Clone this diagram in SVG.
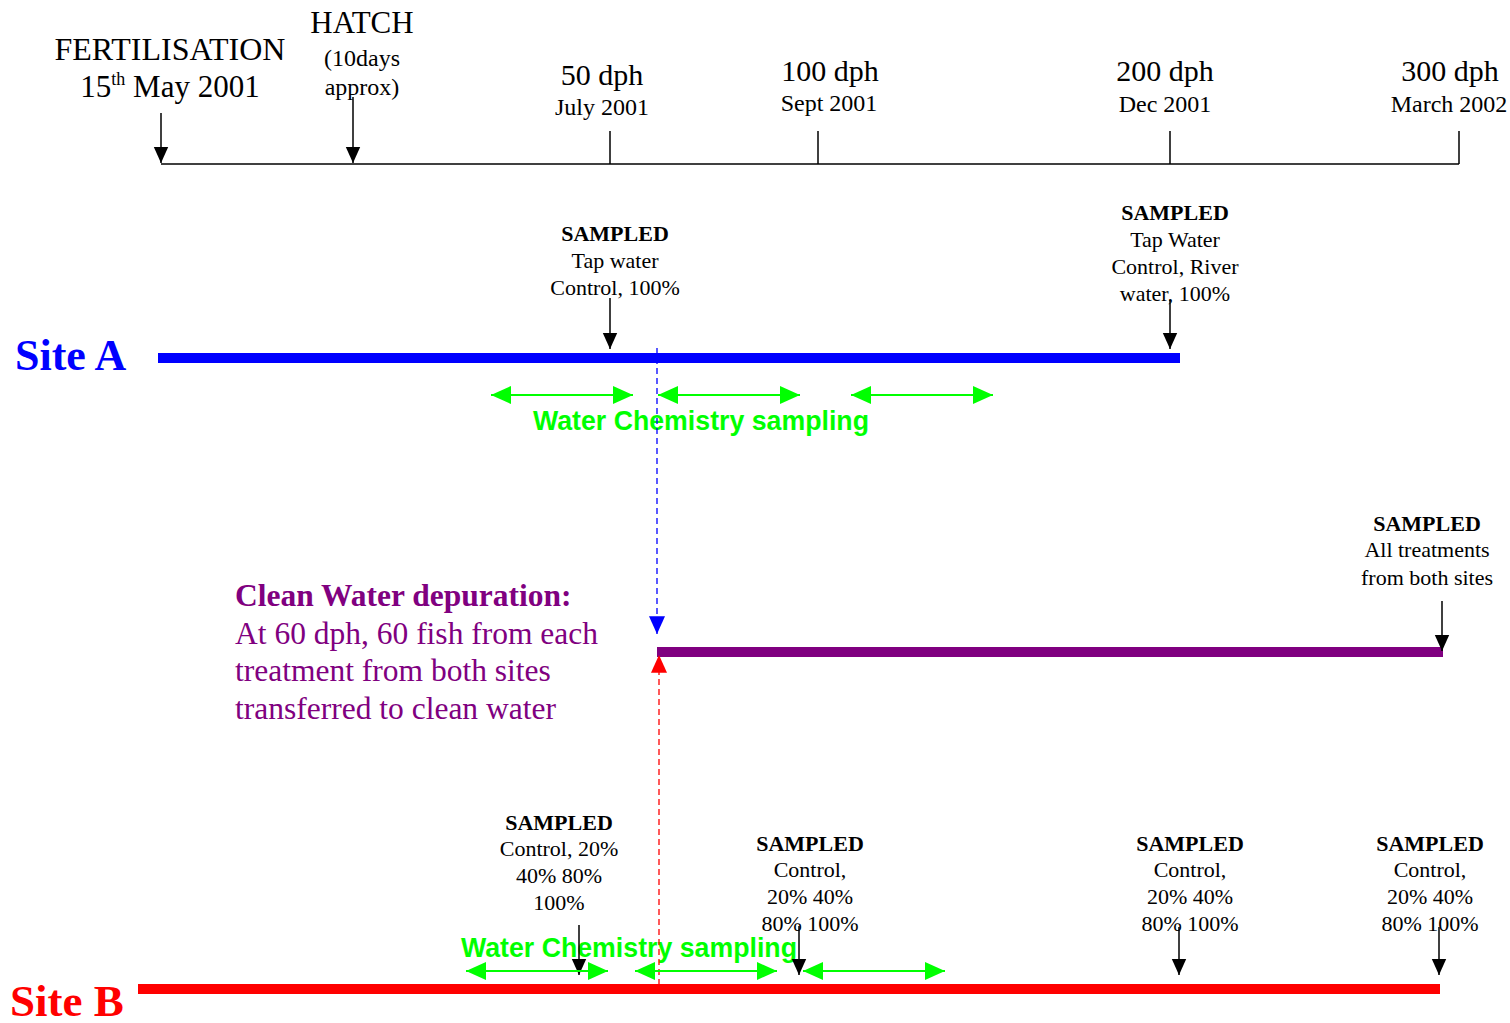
<svg xmlns="http://www.w3.org/2000/svg" width="1510" height="1023" viewBox="0 0 1510 1023">
<style>
text{font-family:"Liberation Serif","Times New Roman",serif;fill:#000}
.big{font-size:30px}
.med{font-size:24px}
.sm{font-size:22px;text-anchor:middle}
.b{font-weight:bold}
.site{font-size:44px;font-weight:bold}
.wc{font-family:"Liberation Sans",Arial,sans-serif;font-size:27px;font-weight:bold;fill:#00ff00}
.pur{fill:#800080;font-size:31.5px}
.blk{stroke:#000;stroke-width:1.5;fill:none}
.grn{stroke:#00ff00;stroke-width:2;fill:none}
</style>
<defs>
<marker id="ga" viewBox="0 0 20 18" refX="20" refY="9" markerWidth="20" markerHeight="18" markerUnits="userSpaceOnUse" orient="auto-start-reverse"><path d="M0,0 L20,9 L0,18 Z" fill="#00ff00"/></marker>
<marker id="ba" viewBox="0 0 20 18" refX="20" refY="9" markerWidth="18" markerHeight="16" markerUnits="userSpaceOnUse" orient="auto"><path d="M0,0 L20,9 L0,18 Z" fill="#0000ff"/></marker>
<marker id="ra" viewBox="0 0 20 18" refX="20" refY="9" markerWidth="18" markerHeight="16" markerUnits="userSpaceOnUse" orient="auto"><path d="M0,0 L20,9 L0,18 Z" fill="#ff0000"/></marker>
<marker id="ka" viewBox="0 0 20 18" refX="20" refY="9" markerWidth="16" markerHeight="16" markerUnits="userSpaceOnUse" orient="auto"><path d="M0,0 L20,9 L0,18 Z" fill="#000"/></marker>
</defs>

<g id="timeline">
<line class="blk" x1="161" y1="164" x2="1459" y2="164"/>
<line class="blk" x1="610" y1="131" x2="610" y2="164"/>
<line class="blk" x1="818" y1="131" x2="818" y2="164"/>
<line class="blk" x1="1170" y1="131" x2="1170" y2="164"/>
<line class="blk" x1="1459" y1="131" x2="1459" y2="164"/>
</g>

<g id="fertilisation">
<text class="big" x="170" y="60" text-anchor="middle" style="font-size:32px">FERTILISATION</text>
<text class="big" x="170" y="97" text-anchor="middle" style="font-size:31px">15<tspan font-size="18" dy="-12">th</tspan><tspan dy="12"> May 2001</tspan></text>
</g>
<g id="hatch">
<text class="big" x="362" y="33" text-anchor="middle" style="font-size:31px">HATCH</text>
<text class="med" x="362" y="66" text-anchor="middle">(10days</text>
<text class="med" x="362" y="95" text-anchor="middle">approx)</text>
</g>
<g id="t50">
<text class="big" x="602" y="85" text-anchor="middle">50 dph</text>
<text class="med" x="602" y="115" text-anchor="middle">July 2001</text>
</g>
<g id="t100">
<text class="big" x="830" y="81" text-anchor="middle">100 dph</text>
<text class="med" x="829" y="111" text-anchor="middle">Sept 2001</text>
</g>
<g id="t200">
<text class="big" x="1165" y="81" text-anchor="middle">200 dph</text>
<text class="med" x="1165" y="112" text-anchor="middle">Dec 2001</text>
</g>
<g id="t300">
<text class="big" x="1450" y="81" text-anchor="middle">300 dph</text>
<text class="med" x="1449" y="112" text-anchor="middle">March 2002</text>
</g>

<g id="siteA">
<text class="site" x="15" y="370" style="fill:#0000ff">Site A</text>
<rect x="158" y="353" width="1022" height="10" fill="#0000ff"/>
</g>
<g id="sampledA1">
<text class="sm b" x="615" y="241">SAMPLED</text>
<text class="sm" x="615" y="268">Tap water</text>
<text class="sm" x="615" y="295">Control, 100%</text>
</g>
<g id="sampledA2">
<text class="sm b" x="1175" y="220">SAMPLED</text>
<text class="sm" x="1175" y="247">Tap Water</text>
<text class="sm" x="1175" y="274">Control, River</text>
<text class="sm" x="1175" y="301">water, 100%</text>
</g>
<g id="wcA">
<text class="wc" x="533" y="430" textLength="336" lengthAdjust="spacingAndGlyphs">Water Chemistry sampling</text>
</g>

<g id="depuration">
<text class="pur b" x="235" y="606" style="fill:#800080">Clean Water depuration:</text>
<text class="pur" x="235" y="644" style="fill:#800080">At 60 dph, 60 fish from each</text>
<text class="pur" x="235" y="681" style="fill:#800080">treatment from both sites</text>
<text class="pur" x="235" y="719" style="fill:#800080">transferred to clean water</text>
<rect x="657" y="647" width="786" height="10" fill="#800080"/>
</g>
<g id="sampledAll">
<text class="sm b" x="1427" y="531">SAMPLED</text>
<text class="sm" x="1427" y="557">All treatments</text>
<text class="sm" x="1427" y="585">from both sites</text>
</g>

<g id="siteB">
<text class="site" x="10" y="1016" style="fill:#ff0000;font-size:45px">Site B</text>
<rect x="138" y="984" width="1302" height="10" fill="#ff0000"/>
</g>
<g id="sampledB1">
<text class="sm b" x="559" y="830">SAMPLED</text>
<text class="sm" x="559" y="856">Control, 20%</text>
<text class="sm" x="559" y="883">40% 80%</text>
<text class="sm" x="559" y="910">100%</text>
</g>
<g id="sampledB2">
<text class="sm b" x="810" y="851">SAMPLED</text>
<text class="sm" x="810" y="877">Control,</text>
<text class="sm" x="810" y="904">20% 40%</text>
<text class="sm" x="810" y="931">80% 100%</text>
</g>
<g id="sampledB3">
<text class="sm b" x="1190" y="851">SAMPLED</text>
<text class="sm" x="1190" y="877">Control,</text>
<text class="sm" x="1190" y="904">20% 40%</text>
<text class="sm" x="1190" y="931">80% 100%</text>
</g>
<g id="sampledB4">
<text class="sm b" x="1430" y="851">SAMPLED</text>
<text class="sm" x="1430" y="877">Control,</text>
<text class="sm" x="1430" y="904">20% 40%</text>
<text class="sm" x="1430" y="931">80% 100%</text>
</g>
<g id="wcB">
<text class="wc" x="461" y="957" textLength="336" lengthAdjust="spacingAndGlyphs">Water Chemistry sampling</text>
</g>

<g id="connectors">
<line class="blk" x1="161" y1="113" x2="161" y2="163" marker-end="url(#ka)"/>
<line class="blk" x1="353" y1="97" x2="353" y2="163" marker-end="url(#ka)"/>
<line class="blk" x1="610" y1="298" x2="610" y2="349" marker-end="url(#ka)"/>
<line class="blk" x1="1170" y1="300" x2="1170" y2="349" marker-end="url(#ka)"/>
<line class="blk" x1="1442" y1="601" x2="1442" y2="651" marker-end="url(#ka)"/>
<line class="blk" x1="579" y1="925" x2="579" y2="975" marker-end="url(#ka)"/>
<line class="blk" x1="799" y1="926" x2="799" y2="975" marker-end="url(#ka)"/>
<line class="blk" x1="1179" y1="927" x2="1179" y2="975" marker-end="url(#ka)"/>
<line class="blk" x1="1439" y1="927" x2="1439" y2="975" marker-end="url(#ka)"/>
<line x1="657" y1="348" x2="657" y2="634" stroke="#0000ff" stroke-width="1.3" stroke-dasharray="6,4" marker-end="url(#ba)"/>
<line x1="659" y1="985" x2="659" y2="655" stroke="#ff0000" stroke-width="1.3" stroke-dasharray="6,4" marker-end="url(#ra)"/>
<line class="grn" x1="491" y1="395" x2="633" y2="395" marker-start="url(#ga)" marker-end="url(#ga)"/>
<line class="grn" x1="658" y1="395" x2="800" y2="395" marker-start="url(#ga)" marker-end="url(#ga)"/>
<line class="grn" x1="851" y1="395" x2="993" y2="395" marker-start="url(#ga)" marker-end="url(#ga)"/>
<line class="grn" x1="466" y1="971" x2="608" y2="971" marker-start="url(#ga)" marker-end="url(#ga)"/>
<line class="grn" x1="635" y1="971" x2="777" y2="971" marker-start="url(#ga)" marker-end="url(#ga)"/>
<line class="grn" x1="803" y1="971" x2="945" y2="971" marker-start="url(#ga)" marker-end="url(#ga)"/>
</g>
</svg>
